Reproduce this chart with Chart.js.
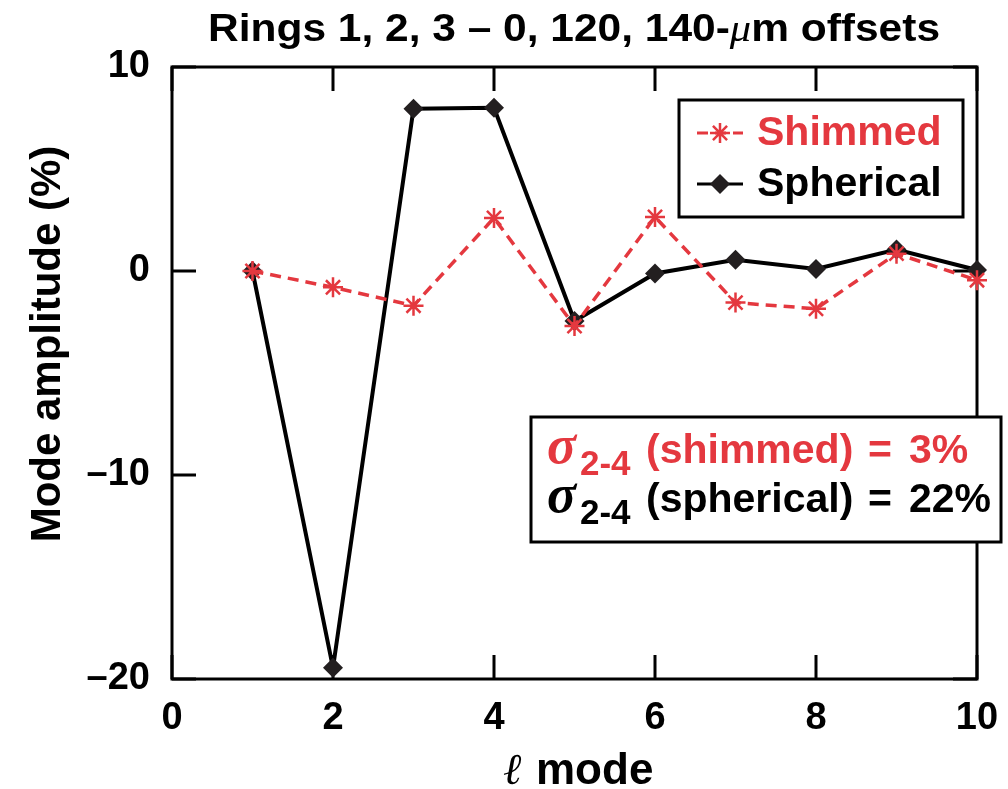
<!DOCTYPE html>
<html>
<head>
<meta charset="utf-8">
<script src="https://cdn.jsdelivr.net/npm/chart.js@4.4.0/dist/chart.umd.min.js"></script>
<style>
    html, body { margin: 0; padding: 0; background: #fff; }
    #wrap { width: 1008px; height: 789px; }
</style>
</head>
<body>
<div id="wrap"><canvas id="modeChart" width="1008" height="789"></canvas></div>
<script>
const modes = [1, 2, 3, 4, 5, 6, 7, 8, 9, 10];
const shimmed = [0, -0.8, -1.7, 2.6, -2.7, 2.65, -1.55, -1.85, 0.85, -0.45];
const spherical = [0, -19.45, 7.95, 8.0, -2.45, -0.12, 0.55, 0.1, 1.05, 0.05];
const xTicks = [0, 2, 4, 6, 8, 10];
const yTicks = [-20, -10, 0, 10];

const red = '#e4383f';
const ink = '#000';
const sans = "'Liberation Sans', Arial, sans-serif";
const serif = "'Liberation Serif', 'DejaVu Serif', serif";

// draws a run of text pieces left to right
function drawRun(ctx, x, y, parts) {
    parts.forEach((p) => {
        ctx.font = p.font;
        ctx.fillStyle = p.color;
        const px = p.at !== undefined ? p.at : x;
        ctx.fillText(p.text, px, y + (p.dy || 0));
        x = px + ctx.measureText(p.text).width + (p.gap || 0);
    });
    return x;
}

const framePlugin = {
    id: 'frame',
    beforeDatasetsDraw(chart) {
        const { ctx, chartArea: a, scales: { x, y } } = chart;
        ctx.save();
        ctx.strokeStyle = ink;
        ctx.lineWidth = 3;
        ctx.strokeRect(a.left, a.top, a.right - a.left, a.bottom - a.top);
        ctx.beginPath();
        x.ticks.forEach((t) => {
            const px = x.getPixelForValue(t.value);
            ctx.moveTo(px, a.bottom); ctx.lineTo(px, a.bottom - 24);
            ctx.moveTo(px, a.top); ctx.lineTo(px, a.top + 24);
        });
        y.ticks.forEach((t) => {
            const py = y.getPixelForValue(t.value);
            ctx.moveTo(a.left, py); ctx.lineTo(a.left + 24, py);
            ctx.moveTo(a.right, py); ctx.lineTo(a.right - 24, py);
        });
        ctx.stroke();
        ctx.restore();
    }
};

const notesPlugin = {
    id: 'notes',
    afterDraw(chart) {
        const { ctx } = chart;
        ctx.save();
        ctx.textBaseline = 'alphabetic';
        ctx.textAlign = 'left';

        // title, squeezed like the original condensed face
        const titleParts = [
            { text: 'Rings 1, 2, 3 \u2013 0, 120, 140-', font: `bold 38px ${sans}`, color: ink },
            { text: '\u03bc', font: `italic 38px ${serif}`, color: ink },
            { text: 'm offsets', font: `bold 38px ${sans}`, color: ink }
        ];
        let w = 0;
        titleParts.forEach((p) => { ctx.font = p.font; w += ctx.measureText(p.text).width; });
        ctx.save();
        ctx.translate(208, 41);
        ctx.scale(732 / w, 1);
        drawRun(ctx, 0, 0, titleParts);
        ctx.restore();

        // y axis title
        ctx.save();
        ctx.font = `bold 42px ${sans}`;
        ctx.fillStyle = ink;
        ctx.textAlign = 'center';
        ctx.translate(60, 344);
        ctx.rotate(-Math.PI / 2);
        ctx.fillText('Mode amplitude (%)', 0, 0);
        ctx.restore();

        // x axis title
        drawRun(ctx, 0, 784, [
            { text: '\u2113', font: `italic 44px ${serif}`, color: ink, at: 503 },
            { text: 'mode', font: `bold 44px ${sans}`, color: ink, at: 536 }
        ]);

        // legend box
        ctx.fillStyle = '#fff';
        ctx.fillRect(679, 100, 284, 117);
        ctx.lineWidth = 3;
        ctx.strokeStyle = ink;
        ctx.strokeRect(679, 100, 284, 117);

        chart.data.datasets.forEach((ds, i) => {
            const ly = 133 + i * 51;
            ctx.save();
            ctx.strokeStyle = ds.borderColor;
            ctx.lineWidth = 3;
            ctx.setLineDash(ds.borderDash || []);
            ctx.beginPath();
            ctx.moveTo(697, ly); ctx.lineTo(743, ly);
            ctx.stroke();
            ctx.setLineDash([]);
            ctx.fillStyle = ds.pointBackgroundColor || ds.borderColor;
            ctx.strokeStyle = ds.pointBorderColor || ds.borderColor;
            ctx.lineWidth = ds.pointBorderWidth;
            Chart.helpers.drawPoint(ctx, {
                pointStyle: ds.pointStyle,
                radius: ds.pointRadius,
                borderWidth: ds.pointBorderWidth,
                rotation: 0
            }, 720, ly);
            ctx.restore();
            ctx.save();
            ctx.fillStyle = ds.borderColor;
            ctx.font = `bold 41px ${sans}`;
            ctx.textBaseline = 'middle';
            ctx.fillText(ds.label, 757, ly + 1);
            ctx.restore();
        });

        // sigma box
        ctx.fillStyle = '#fff';
        ctx.fillRect(531, 417, 470, 125);
        ctx.lineWidth = 3;
        ctx.strokeStyle = ink;
        ctx.strokeRect(531, 417, 470, 125);
        const sigma = `italic bold 54px ${serif}`;
        const sub = `bold 35px ${sans}`;
        const main = `bold 41px ${sans}`;
        const rows = [
            { color: red, label: '(shimmed)', val: '3%', y: 463 },
            { color: ink, label: '(spherical)', val: '22%', y: 512 }
        ];
        rows.forEach((r) => {
            drawRun(ctx, 0, r.y, [
                { text: '\u03c3', font: sigma, color: r.color, at: 547 },
                { text: '2-4', font: sub, color: r.color, dy: 12, at: 580 },
                { text: r.label, font: main, color: r.color, at: 646 },
                { text: '=', font: main, color: r.color, at: 868 },
                { text: r.val, font: main, color: r.color, at: 909 }
            ]);
        });
        ctx.restore();
    }
};

new Chart(document.getElementById('modeChart'), {
    type: 'line',
    data: {
        datasets: [{
            label: 'Shimmed',
            data: modes.map((m, i) => ({ x: m, y: shimmed[i] })),
            borderColor: red,
            backgroundColor: red,
            borderWidth: 3.5,
            borderDash: [11, 7],
            pointStyle: 'star',
            pointRadius: 10,
            pointBorderWidth: 2.5,
            pointBorderColor: red,
            pointBackgroundColor: red,
            tension: 0,
            clip: false
        }, {
            label: 'Spherical',
            data: modes.map((m, i) => ({ x: m, y: spherical[i] })),
            borderColor: ink,
            backgroundColor: '#231f20',
            borderWidth: 4,
            pointStyle: 'rectRot',
            pointRadius: 10,
            pointBorderWidth: 0,
            pointBackgroundColor: '#231f20',
            tension: 0,
            clip: false
        }]
    },
    options: {
        responsive: false,
        animation: false,
        devicePixelRatio: 1,
        layout: { padding: { top: 67, right: 31, left: 0, bottom: 0 } },
        plugins: {
            legend: { display: false },
            title: { display: false },
            tooltip: { enabled: false }
        },
        scales: {
            x: {
                type: 'linear',
                min: 0,
                max: 10,
                afterBuildTicks: (scale) => { scale.ticks = xTicks.map((v) => ({ value: v })); },
                afterFit: (scale) => {
                    scale.height = 110;
                    scale.paddingLeft = 0;
                    scale.paddingRight = 0;
                },
                grid: { display: false, drawTicks: false },
                border: { display: false },
                ticks: {
                    color: ink,
                    padding: 17,
                    maxRotation: 0,
                    font: { family: sans, size: 38, weight: 'bold' }
                }
            },
            y: {
                type: 'linear',
                min: -20,
                max: 10,
                afterBuildTicks: (scale) => { scale.ticks = yTicks.map((v) => ({ value: v })); },
                afterFit: (scale) => { scale.width = 172; },
                grid: { display: false, drawTicks: false },
                border: { display: false },
                ticks: {
                    color: ink,
                    padding: 22,
                    font: { family: sans, size: 38, weight: 'bold' },
                    callback: (v) => String(v).replace('-', '\u2013')
                }
            }
        }
    },
    plugins: [framePlugin, notesPlugin]
});
</script>
</body>
</html>
